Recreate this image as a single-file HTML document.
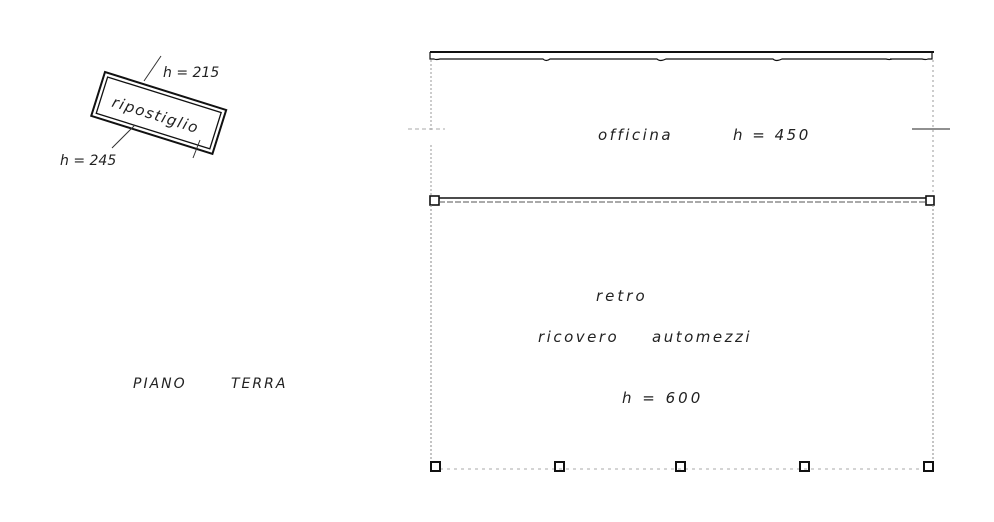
<!DOCTYPE html>
<html><head><meta charset="utf-8"><style>
html,body{margin:0;padding:0;background:#fff;width:994px;height:522px;overflow:hidden}
svg text{font-family:"DejaVu Sans","Liberation Sans",sans-serif;font-style:italic;fill:#222}
</style></head><body>
<svg width="994" height="522" viewBox="0 0 994 522" xmlns="http://www.w3.org/2000/svg">
<g transform="translate(105,72) rotate(17.4)">
  <rect x="0" y="0" width="127" height="46" fill="none" stroke="#111" stroke-width="2"/>
  <rect x="4" y="4" width="119" height="38" fill="none" stroke="#111" stroke-width="1.3"/>
  <text x="16" y="31" font-size="15" letter-spacing="1.5">ripostiglio</text>
</g>
<line x1="144" y1="81" x2="161" y2="56" stroke="#333" stroke-width="1"/>
<text x="163" y="77" font-size="14">h = 215</text>
<line x1="112" y1="148" x2="135" y2="125" stroke="#333" stroke-width="1"/>
<text x="60" y="165" font-size="14">h = 245</text>
<line x1="193" y1="158" x2="200" y2="140" stroke="#333" stroke-width="1"/>

<text x="133" y="388" font-size="14" letter-spacing="2">PIANO</text>
<text x="231" y="388" font-size="14" letter-spacing="2">TERRA</text>

<g stroke="#111" fill="none">
  <line x1="430" y1="52" x2="934" y2="52" stroke-width="2"/>
  <path d="M430 52 V59 H434 Q436 60 440 59 H543 Q546 62 550 59 H657 Q660 62 666 59 H773 Q776 62 782 59 H886 Q890 60 892 59" stroke-width="1.2"/>
  <path d="M932 52 V59 H928 Q926 60 922 59 H890" stroke-width="1.2"/>
  <line x1="431" y1="60" x2="431" y2="130" stroke="#999" stroke-dasharray="2 2"/>
  <line x1="933" y1="60" x2="933" y2="195" stroke="#999" stroke-dasharray="2 3"/>
  <line x1="431" y1="145" x2="431" y2="195" stroke="#999" stroke-dasharray="2 2"/>
  <line x1="408" y1="129" x2="445" y2="129" stroke="#aaa" stroke-dasharray="4 3"/>
  <line x1="912" y1="129" x2="950" y2="129" stroke="#222" stroke-width="1"/>
  <rect x="430" y="196" width="9" height="9" stroke-width="1.6"/>
  <rect x="926" y="196" width="8" height="9" stroke-width="1.6"/>
  <line x1="439" y1="198" x2="926" y2="198" stroke-width="1.5"/>
  <line x1="439" y1="202" x2="926" y2="202" stroke="#555" stroke-width="1" stroke-dasharray="6 2"/>
  <line x1="431" y1="205" x2="431" y2="462" stroke="#888" stroke-dasharray="2 2"/>
  <line x1="933" y1="205" x2="933" y2="462" stroke="#888" stroke-dasharray="2 2"/>
  <line x1="440" y1="469" x2="924" y2="469" stroke="#aaa" stroke-dasharray="3 4"/>
  <rect x="431" y="462" width="9" height="9" stroke-width="2"/>
  <rect x="555" y="462" width="9" height="9" stroke-width="2"/>
  <rect x="676" y="462" width="9" height="9" stroke-width="2"/>
  <rect x="800" y="462" width="9" height="9" stroke-width="2"/>
  <rect x="924" y="462" width="9" height="9" stroke-width="2"/>
</g>
<text x="598" y="140" font-size="15" letter-spacing="2.5">officina</text>
<text x="733" y="140" font-size="15" letter-spacing="2.5">h = 450</text>
<text x="596" y="301" font-size="15" letter-spacing="3">retro</text>
<text x="538" y="342" font-size="15" letter-spacing="2.5">ricovero</text>
<text x="652" y="342" font-size="15" letter-spacing="2.5">automezzi</text>
<text x="622" y="403" font-size="15" letter-spacing="3">h = 600</text>
</svg>
</body></html>
